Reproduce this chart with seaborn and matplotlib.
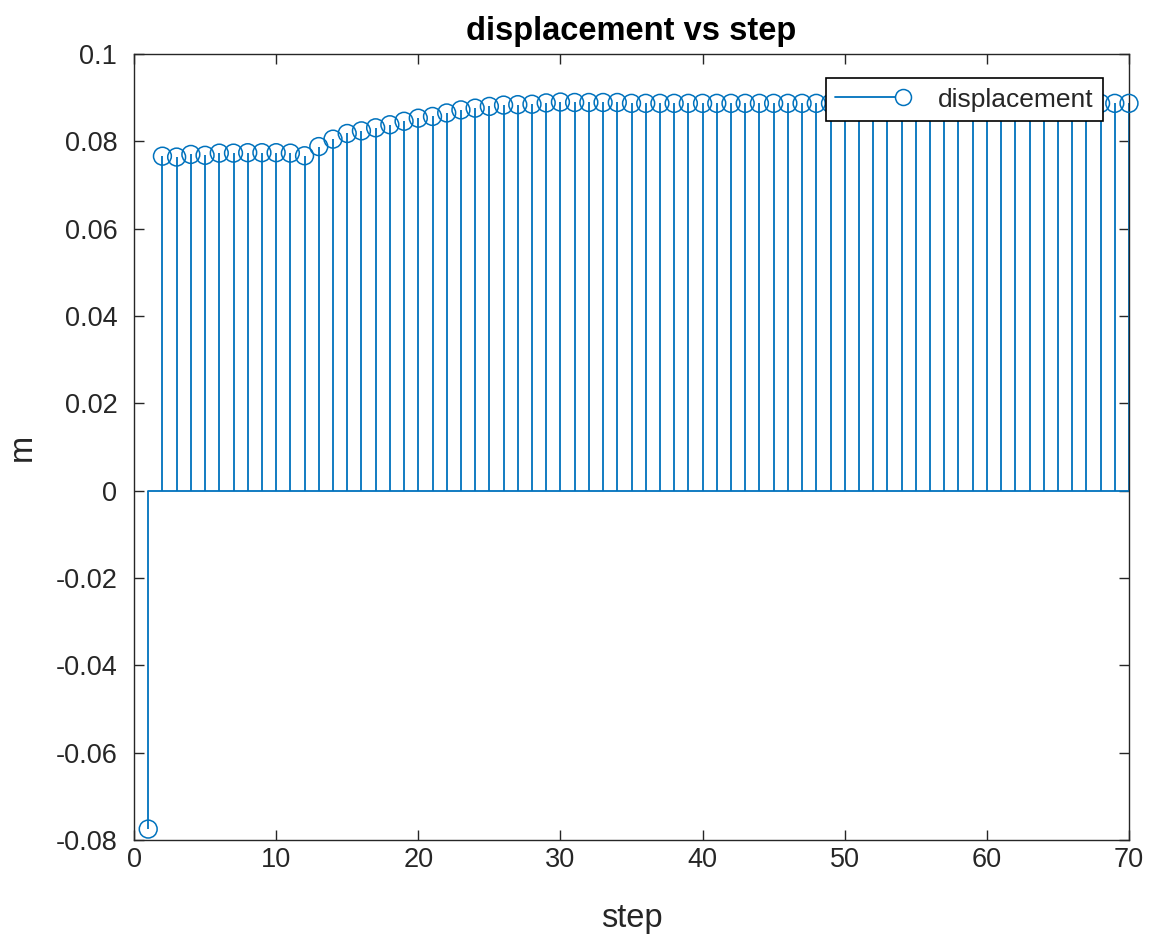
import numpy as np
import pandas as pd
import matplotlib
matplotlib.use("Agg")
import matplotlib.pyplot as plt
import seaborn as sns
from matplotlib.lines import Line2D
from matplotlib.legend_handler import HandlerBase

# ---- data ----
steps = list(range(1, 71))
displacement = [
    -0.0775, 0.0766, 0.0764, 0.0770, 0.0768, 0.0773, 0.0773, 0.0774, 0.0774, 0.0774,
    0.0773, 0.0767, 0.0788, 0.0805, 0.0818, 0.0824, 0.0831, 0.0838, 0.0846, 0.0853,
    0.0857, 0.0865, 0.0872, 0.0876, 0.0880, 0.0883, 0.0884, 0.0885, 0.0888, 0.0890,
    0.0889, 0.0889, 0.0889, 0.0889, 0.0887, 0.0887, 0.0887, 0.0887, 0.0887, 0.0887,
    0.0887, 0.0887, 0.0887, 0.0887, 0.0887, 0.0887, 0.0887, 0.0887, 0.0887, 0.0887,
    0.0887, 0.0887, 0.0887, 0.0887, 0.0887, 0.0887, 0.0887, 0.0887, 0.0887, 0.0887,
    0.0887, 0.0887, 0.0887, 0.0887, 0.0887, 0.0887, 0.0887, 0.0887, 0.0887, 0.0887,
]
xticks = [0, 10, 20, 30, 40, 50, 60, 70]
yticks = [-0.08, -0.06, -0.04, -0.02, 0, 0.02, 0.04, 0.06, 0.08, 0.1]
ytick_labels = ["-0.08", "-0.06", "-0.04", "-0.02", "0", "0.02", "0.04", "0.06", "0.08", "0.1"]
title = "displacement vs step"
xlabel = "step"
ylabel = "m"
series_name = "displacement"

df = pd.DataFrame({"step": steps, "displacement": displacement})

sns.set_style("white")
plt.rcParams["font.family"] = ["Liberation Sans", "DejaVu Sans"]

BLUE = "#0072BD"
AX = "#262626"

fig = plt.figure(figsize=(11.53, 9.41), dpi=100)
ax = fig.add_axes([134 / 1153, 1 - 840 / 941, (1129 - 134) / 1153, (840 - 54) / 941])

# stems
ax.vlines(df["step"], 0, df["displacement"], color=BLUE, linewidth=1.3, zorder=2)
# baseline
ax.plot([1, 70], [0, 0], color=BLUE, linewidth=1.3, zorder=2)
# markers
sns.scatterplot(data=df, x="step", y="displacement", ax=ax, marker="o", s=165,
                facecolors="none", edgecolor=BLUE, linewidth=1.1, zorder=3,
                legend=False, clip_on=False)

ax.set_xlim(0, 70)
ax.set_ylim(-0.08, 0.1)
ax.set_xticks(xticks)
ax.set_xticklabels([str(t) for t in xticks])
ax.set_yticks(yticks)
ax.set_yticklabels(ytick_labels)

for s in ax.spines.values():
    s.set_visible(True)
    s.set_color(AX)
    s.set_linewidth(1.0)

ax.tick_params(axis="both", which="both", direction="in", length=7, width=1.0,
               top=True, right=True, bottom=True, left=True, color=AX,
               labelsize=19.5, labelcolor=AX)
ax.tick_params(axis="x", pad=5)
ax.tick_params(axis="y", pad=12)

ax.set_title(title, fontsize=23.5, fontweight="bold", color="black", pad=10)
ax.set_xlabel(xlabel, fontsize=23.5, color=AX, labelpad=22)
ax.set_ylabel(ylabel, fontsize=23.5, color=AX, labelpad=13)


class StemHandler(HandlerBase):
    def create_artists(self, legend, orig_handle, xdescent, ydescent, width, height, fontsize, trans):
        y = height / 2 - ydescent
        xe = width - xdescent - 8
        line = Line2D([-xdescent, xe], [y, y], color=BLUE, lw=1.3)
        mk = Line2D([xe], [y], marker="o", markersize=11.5,
                    markerfacecolor="white", markeredgecolor=BLUE, markeredgewidth=1.1, linestyle="none")
        line.set_transform(trans)
        mk.set_transform(trans)
        return [line, mk]


handle = Line2D([], [], color=BLUE)
leg = ax.legend([handle], [series_name], handler_map={Line2D: StemHandler()},
                loc="upper right", bbox_to_anchor=(0.974, 0.969), borderaxespad=0,
                fontsize=19, frameon=True, fancybox=False, handlelength=3.0,
                handletextpad=0.9, borderpad=0.35)
leg.get_frame().set_edgecolor("black")
leg.get_frame().set_linewidth(1.2)
leg.get_frame().set_alpha(1)
for t in leg.get_texts():
    t.set_color(AX)

fig.savefig("out.png", dpi=100, facecolor="white")
